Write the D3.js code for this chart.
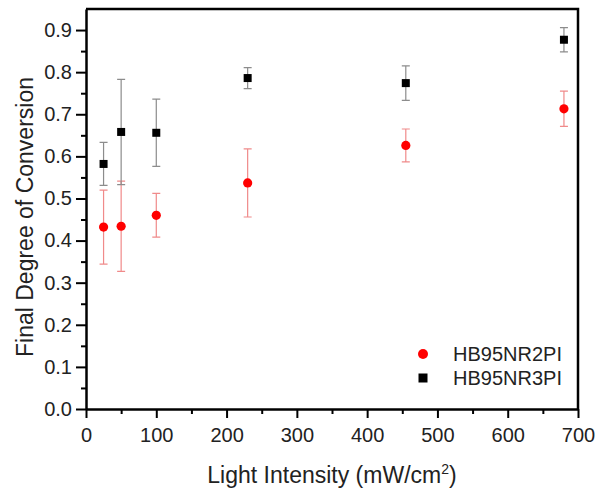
<!DOCTYPE html>
<html>
<head>
<meta charset="utf-8">
<script src="https://cdn.jsdelivr.net/npm/d3@7"></script>
<style>
  body { margin: 0; background: #fff; }
  svg { display: block; font-family: "Liberation Sans", Arial, sans-serif; }
  .tick-label { font-size: 20px; fill: #222; }
  .title { font-size: 23px; fill: #222; }
</style>
</head>
<body>
<div id="container"></div>
<script>
// Light intensity (mW/cm2)
const intensity = [25, 50, 100, 230, 455, 680];

// HB95NR2PI (red circles)
const nr2Mean = [0.432, 0.434, 0.460, 0.537, 0.626, 0.713];
const nr2Err = [0.088, 0.107, 0.052, 0.081, 0.039, 0.042];

// HB95NR3PI (black squares)
const nr3Mean = [0.582, 0.658, 0.656, 0.786, 0.774, 0.877];
const nr3Err = [0.051, 0.125, 0.080, 0.025, 0.041, 0.029];

const xTicks = [0, 100, 200, 300, 400, 500, 600, 700];
const yTicks = [0.0, 0.1, 0.2, 0.3, 0.4, 0.5, 0.6, 0.7, 0.8, 0.9];

const width = 604;
const height = 495;
const plotLeft = 86;
const plotRight = 578;
const plotTop = 9;
const plotBottom = 409;

const svg = d3.select('#container')
              .append('svg')
              .attr('width', width)
              .attr('height', height);

const x = d3.scaleLinear().domain([0, 700]).range([plotLeft, plotRight]);
const y = d3.scaleLinear().domain([0, 0.95]).range([plotBottom, plotTop]);

const series = [
  { name: 'HB95NR2PI', mean: nr2Mean, err: nr2Err, color: '#ff0000', barColor: '#f08a8a', shape: 'circle' },
  { name: 'HB95NR3PI', mean: nr3Mean, err: nr3Err, color: '#000000', barColor: '#8c8c8c', shape: 'square' }
];

// frame (top + right)
svg.append('path')
   .attr('d', `M${plotLeft},${plotTop}H${plotRight}V${plotBottom}`)
   .attr('fill', 'none')
   .attr('stroke', '#000')
   .attr('stroke-width', 2.5);

// minor ticks
const xMinor = d3.range(50, 700, 100);
const yMinor = d3.range(0.05, 0.95, 0.1);

svg.append('g')
   .attr('transform', `translate(0, ${plotBottom})`)
   .call(d3.axisBottom(x).tickValues(xMinor).tickSize(5).tickFormat(''))
   .call(g => g.select('.domain').remove())
   .selectAll('line').attr('stroke-width', 2);

svg.append('g')
   .attr('transform', `translate(${plotLeft}, 0)`)
   .call(d3.axisLeft(y).tickValues(yMinor).tickSize(5).tickFormat(''))
   .call(g => g.select('.domain').remove())
   .selectAll('line').attr('stroke-width', 2);

// X axis
const xAxis = svg.append('g')
   .attr('transform', `translate(0, ${plotBottom})`)
   .call(d3.axisBottom(x).tickValues(xTicks).tickSize(9).tickSizeOuter(0).tickPadding(6));
xAxis.select('.domain').attr('stroke-width', 2.5);
xAxis.selectAll('line').attr('stroke-width', 2);
xAxis.selectAll('text').attr('class', 'tick-label').attr('dy', '0.9em');

// Y axis
const yAxis = svg.append('g')
   .attr('transform', `translate(${plotLeft}, 0)`)
   .call(d3.axisLeft(y).tickValues(yTicks).tickSize(10).tickSizeOuter(0).tickPadding(4).tickFormat(d3.format('.1f')));
yAxis.select('.domain').attr('stroke-width', 2.5);
yAxis.selectAll('line').attr('stroke-width', 2);
yAxis.selectAll('text').attr('class', 'tick-label');

// Axis titles
const xTitle = svg.append('text')
   .attr('class', 'title')
   .attr('x', (plotLeft + plotRight) / 2)
   .attr('y', 483)
   .attr('text-anchor', 'middle');
xTitle.append('tspan').text('Light Intensity (mW/cm');
xTitle.append('tspan').attr('dy', -9).style('font-size', '14px').text('2');
xTitle.append('tspan').attr('dy', 9).text(')');

svg.append('text')
   .attr('class', 'title')
   .attr('transform', `translate(33, ${(plotTop + plotBottom) / 2 + 8}) rotate(-90)`)
   .attr('text-anchor', 'middle')
   .text('Final Degree of Conversion');

// error bars + markers
const cap = 4;
for (const s of series) {
  const g = svg.append('g');
  const data = intensity.map((v, i) => ({ x: v, m: s.mean[i], e: s.err[i] }));
  g.selectAll('.bar')
   .data(data)
   .enter()
   .append('path')
   .attr('d', d => {
     const px = x(d.x), y1 = y(d.m + d.e), y0 = y(d.m - d.e);
     return `M${px - cap},${y1}H${px + cap}M${px},${y1}V${y0}M${px - cap},${y0}H${px + cap}`;
   })
   .attr('fill', 'none')
   .attr('stroke', s.barColor)
   .attr('stroke-width', 1.2);
}
for (const s of series) {
  const data = intensity.map((v, i) => ({ x: v, m: s.mean[i] }));
  if (s.shape === 'circle') {
    svg.append('g').selectAll('circle')
       .data(data)
       .enter()
       .append('circle')
       .attr('cx', d => x(d.x))
       .attr('cy', d => y(d.m))
       .attr('r', 4.6)
       .attr('fill', s.color);
  } else {
    svg.append('g').selectAll('rect')
       .data(data)
       .enter()
       .append('rect')
       .attr('x', d => x(d.x) - 4)
       .attr('y', d => y(d.m) - 4)
       .attr('width', 8)
       .attr('height', 8)
       .attr('fill', s.color);
  }
}

// legend
const legend = svg.append('g').attr('transform', 'translate(423, 354)');
series.forEach((s, i) => {
  const row = legend.append('g').attr('transform', `translate(0, ${i * 24})`);
  if (s.shape === 'circle') {
    row.append('circle').attr('r', 5).attr('fill', s.color);
  } else {
    row.append('rect').attr('x', -4.5).attr('y', -4.5).attr('width', 9).attr('height', 9).attr('fill', s.color);
  }
  row.append('text')
     .attr('class', 'tick-label')
     .attr('x', 30)
     .attr('y', 7)
     .text(s.name);
});
</script>
</body>
</html>
